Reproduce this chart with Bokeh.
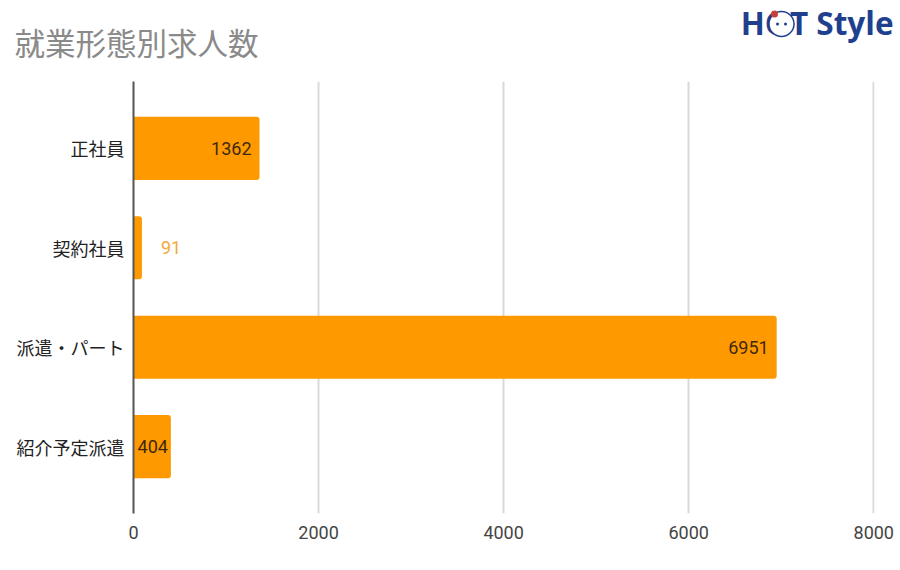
from bokeh.core.properties import value
from bokeh.embed import file_html
from bokeh.layouts import column
from bokeh.resources import INLINE
from bokeh.plotting import figure
from bokeh.models import (ColumnDataSource, FactorRange, Range1d, FixedTicker, LabelSet,
                          Label)

title_text = "就業形態別求人数"
logo_text = "HOT Style"
categories = ["正社員", "契約社員", "派遣・パート", "紹介予定派遣"]
values = [1362, 91, 6951, 404]
x_ticks = [0, 2000, 4000, 6000, 8000]

BAR = "#ff9900"
NAVY = "#1f3f8f"
W, H = 900, 570
LEFT, TOP, RIGHT, BOTTOM = 133, 81, 26, 57

# header strip: its frame is the whole strip, so its data units are pixels from the top-left
head = figure(width=W, height=TOP, output_backend="svg", toolbar_location=None,
              x_range=Range1d(0, W), y_range=Range1d(TOP, 0),
              x_axis_type=None, y_axis_type=None, frame_align=False,
              min_border_left=0, min_border_right=0, min_border_top=0, min_border_bottom=0)
head.outline_line_color = None
head.grid.visible = False
head.add_layout(Label(x=14, y=41, text=title_text,
                      text_font="Noto Sans CJK JP", text_font_size="30.5px", text_color="#8a8a8a",
                      text_baseline="middle"))
head.add_layout(Label(x=893, y=21.5, text=logo_text,
                      text_font="Open Sans", text_font_style="bold", text_font_size="31.5px",
                      text_color=NAVY, text_align="right", text_baseline="middle"))
head.scatter([781], [23.5], size=25, marker="circle", fill_color="white",
             line_color=NAVY, line_width=1.5, level="overlay")
head.scatter([774], [13.5], size=7, marker="circle", fill_color="#c8403a",
             line_color=None, level="overlay")
head.scatter([777, 785], [23.5, 23.5], size=3, marker="circle", fill_color=NAVY,
             line_color=None, level="overlay")

src = ColumnDataSource(dict(
    cat=categories, val=values, txt=[str(v) for v in values],
    off=[-8, 19, -8, -3],
    align=["right", "left", "right", "right"],
    col=["#3d2a0c", "#f2a93b", "#3d2a0c", "#3d2a0c"],
))

p = figure(width=W, height=H - TOP, output_backend="svg", toolbar_location=None,
           y_range=FactorRange(factors=categories[::-1], range_padding=0.0865),
           x_range=Range1d(0, 8008), frame_align=False,
           min_border_left=LEFT, min_border_right=RIGHT, min_border_top=0, min_border_bottom=BOTTOM)
p.outline_line_color = None
p.background_fill_color = "white"
p.border_fill_color = "white"

p.hbar(y="cat", right="val", left=0, height=0.635, source=src, fill_color=BAR,
       line_color=None, border_radius=(0, 3, 3, 0))

p.ygrid.visible = False
p.xgrid.ticker = FixedTicker(ticks=x_ticks)
p.xgrid.grid_line_color = "#d9d9d9"
p.xgrid.grid_line_width = 2

p.xaxis.ticker = FixedTicker(ticks=x_ticks)
p.xaxis.axis_line_color = None
p.xaxis.major_tick_line_color = None
p.xaxis.minor_tick_line_color = None
p.xaxis.major_label_text_font = "Roboto"
p.xaxis.major_label_text_font_size = "18px"
p.xaxis.major_label_text_color = "#444444"
p.xaxis.major_label_standoff = 6

p.yaxis.axis_line_color = "#555555"
p.yaxis.axis_line_width = 2
p.yaxis.major_tick_line_color = None
p.yaxis.minor_tick_line_color = None
p.yaxis.major_label_text_font = "Noto Sans CJK JP"
p.yaxis.major_label_text_font_size = "18px"
p.yaxis.major_label_text_color = "#222222"
p.yaxis.major_label_standoff = 3

p.add_layout(LabelSet(x="val", y="cat", text="txt", source=src, x_offset="off",
                      text_align="align", text_baseline="middle", text_color="col",
                      text_font=value("Roboto"), text_font_size="18px"))

page = column(head, p, spacing=0)
open("out.html", "w").write(file_html(page, INLINE))
